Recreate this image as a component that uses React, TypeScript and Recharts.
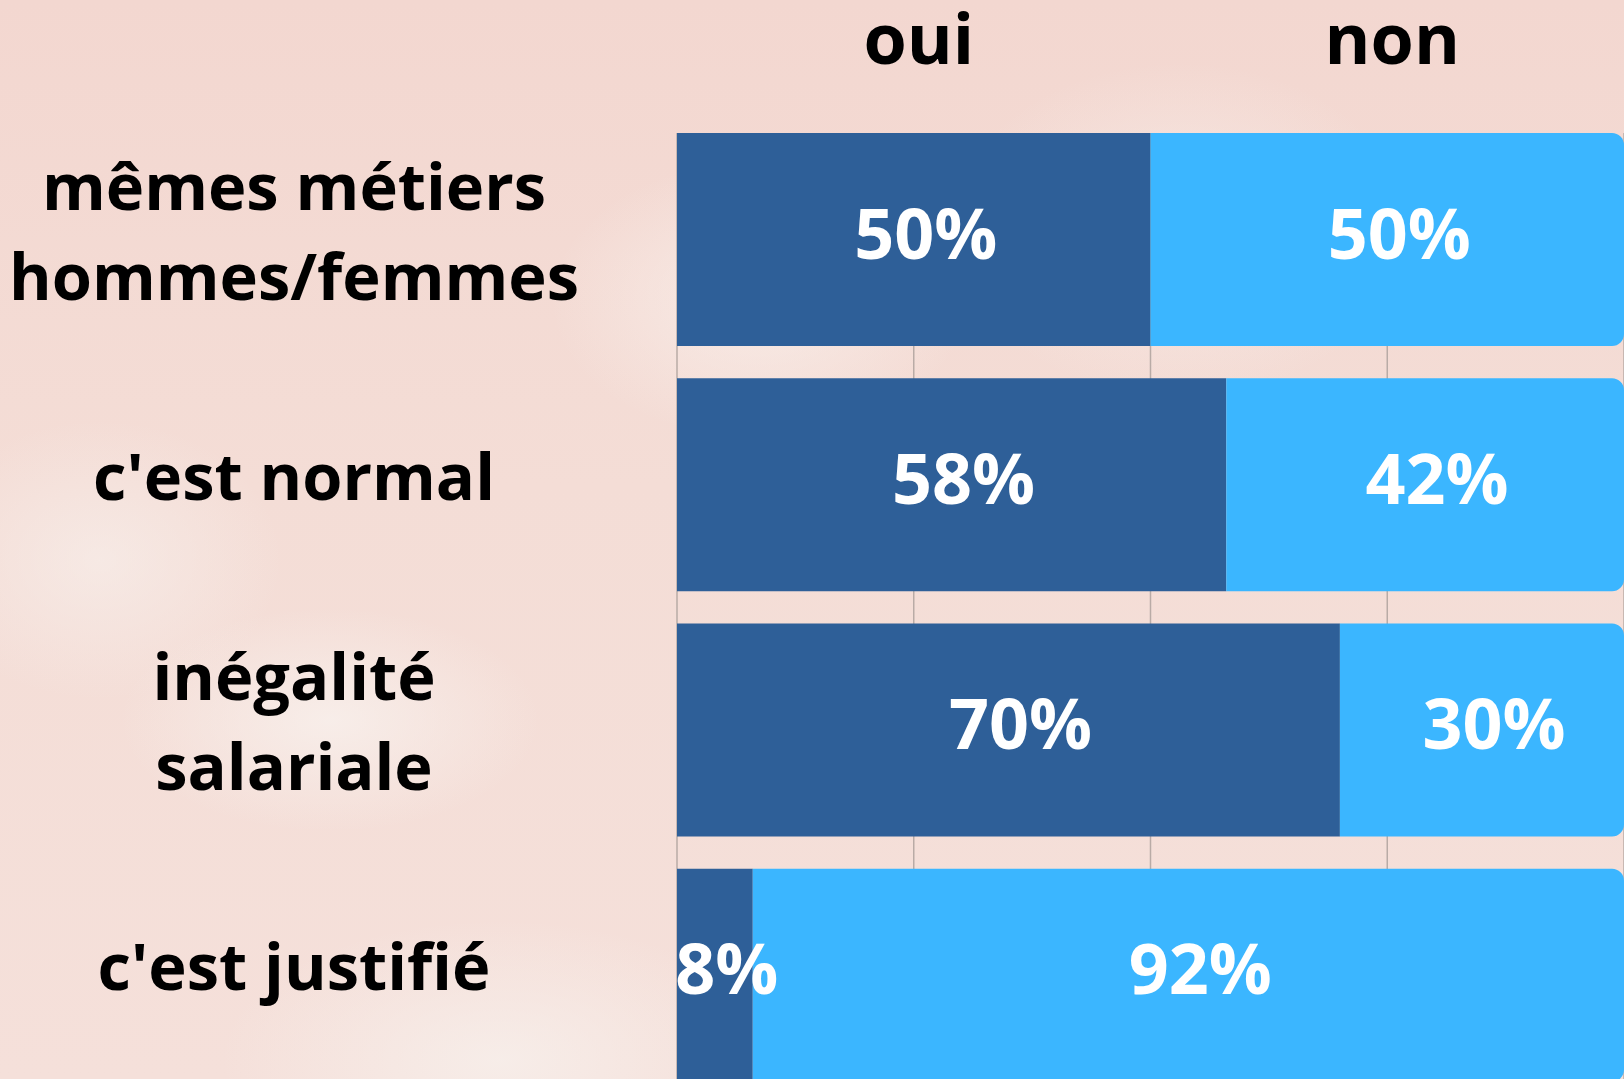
import React from 'react';
import { BarChart, Bar, XAxis, YAxis, CartesianGrid, LabelList } from 'recharts';

const categories = ['mêmes métiers\nhommes/femmes', "c'est normal", 'inégalité\nsalariale', "c'est justifié"];
const ouiValues = [50, 58, 70, 8];
const nonValues = [50, 42, 30, 92];
const xTicks = [0, 25, 50, 75, 100];
const headerLabels: Record<number, string> = { 25: 'oui', 75: 'non' };

const DARK = '#2E5F98';
const LIGHT = '#3BB6FF';
const FONT = '"Open Sans", "DejaVu Sans", sans-serif';

const data = categories.map((name, i) => ({ name, oui: ouiValues[i], non: nonValues[i] }));

function HeaderTick(props: any) {
  const { x, payload } = props;
  const label = headerLabels[payload.value];
  if (!label) return null;
  return (
    <text x={x + 5} y={64} textAnchor="middle" fontFamily={FONT} fontWeight={700} fontSize={70} fill="#000">
      {label}
    </text>
  );
}

function CategoryTick(props: any) {
  const { y, payload } = props;
  const lines = String(payload.value).split('\n');
  const lineH = 90;
  return (
    <text textAnchor="middle" fontFamily={FONT} fontWeight={700} fontSize={65} fill="#000">
      {lines.map((l, i) => (
        <tspan key={i} x={294} y={y + (i - (lines.length - 1) / 2) * lineH + 15}>
          {l}
        </tspan>
      ))}
    </text>
  );
}

function ValueLabel(props: any) {
  const { x, y, width, height, value } = props;
  return (
    <text
      x={x + width / 2 + 12}
      y={y + height / 2 - 8}
      textAnchor="middle"
      dominantBaseline="central"
      fontFamily={FONT}
      fontWeight={700}
      fontSize={70}
      fill="#fff"
    >
      {`${value}%`}
    </text>
  );
}

export default function App() {
  return (
    <div
      style={{
        position: 'fixed',
        left: 0,
        top: 0,
        width: 1624,
        height: 1079,
        overflow: 'hidden',
        background:
          'radial-gradient(ellipse 300px 200px at 760px 300px, rgba(250,242,238,0.7), rgba(250,242,238,0) 70%),' +
          'radial-gradient(ellipse 330px 240px at 1180px 230px, rgba(248,238,234,0.7), rgba(248,238,234,0) 70%),' +
          'radial-gradient(ellipse 300px 160px at 330px 720px, rgba(248,240,236,0.85), rgba(248,240,236,0) 70%),' +
          'radial-gradient(ellipse 260px 200px at 100px 560px, rgba(247,238,234,0.7), rgba(247,238,234,0) 70%),' +
          'radial-gradient(ellipse 400px 200px at 500px 1060px, rgba(247,240,236,0.8), rgba(247,240,236,0) 70%),' +
          'linear-gradient(180deg, #f3d7d0 0%, #f4ddd6 45%, #f5e0da 100%)',
      }}
    >
      <BarChart
        width={1624}
        height={1100}
        data={data}
        layout="vertical"
        margin={{ top: 57, right: 0, bottom: 2, left: 0 }}
        barCategoryGap={16}
      >
        <CartesianGrid horizontal={false} stroke="#b9aba6" strokeWidth={1.5} y={133} height={960} />
        <XAxis
          type="number"
          orientation="top"
          domain={[0, 100]}
          ticks={xTicks}
          height={60}
          axisLine={false}
          tickLine={false}
          tick={<HeaderTick />}
        />
        <YAxis
          type="category"
          dataKey="name"
          width={677}
          axisLine={false}
          tickLine={false}
          tick={<CategoryTick />}
        />
        <Bar dataKey="oui" stackId="a" fill={DARK} isAnimationActive={false}>
          <LabelList dataKey="oui" content={<ValueLabel />} />
        </Bar>
        <Bar dataKey="non" stackId="a" fill={LIGHT} radius={[0, 12, 12, 0]} isAnimationActive={false}>
          <LabelList dataKey="non" content={<ValueLabel />} />
        </Bar>
      </BarChart>
    </div>
  );
}
